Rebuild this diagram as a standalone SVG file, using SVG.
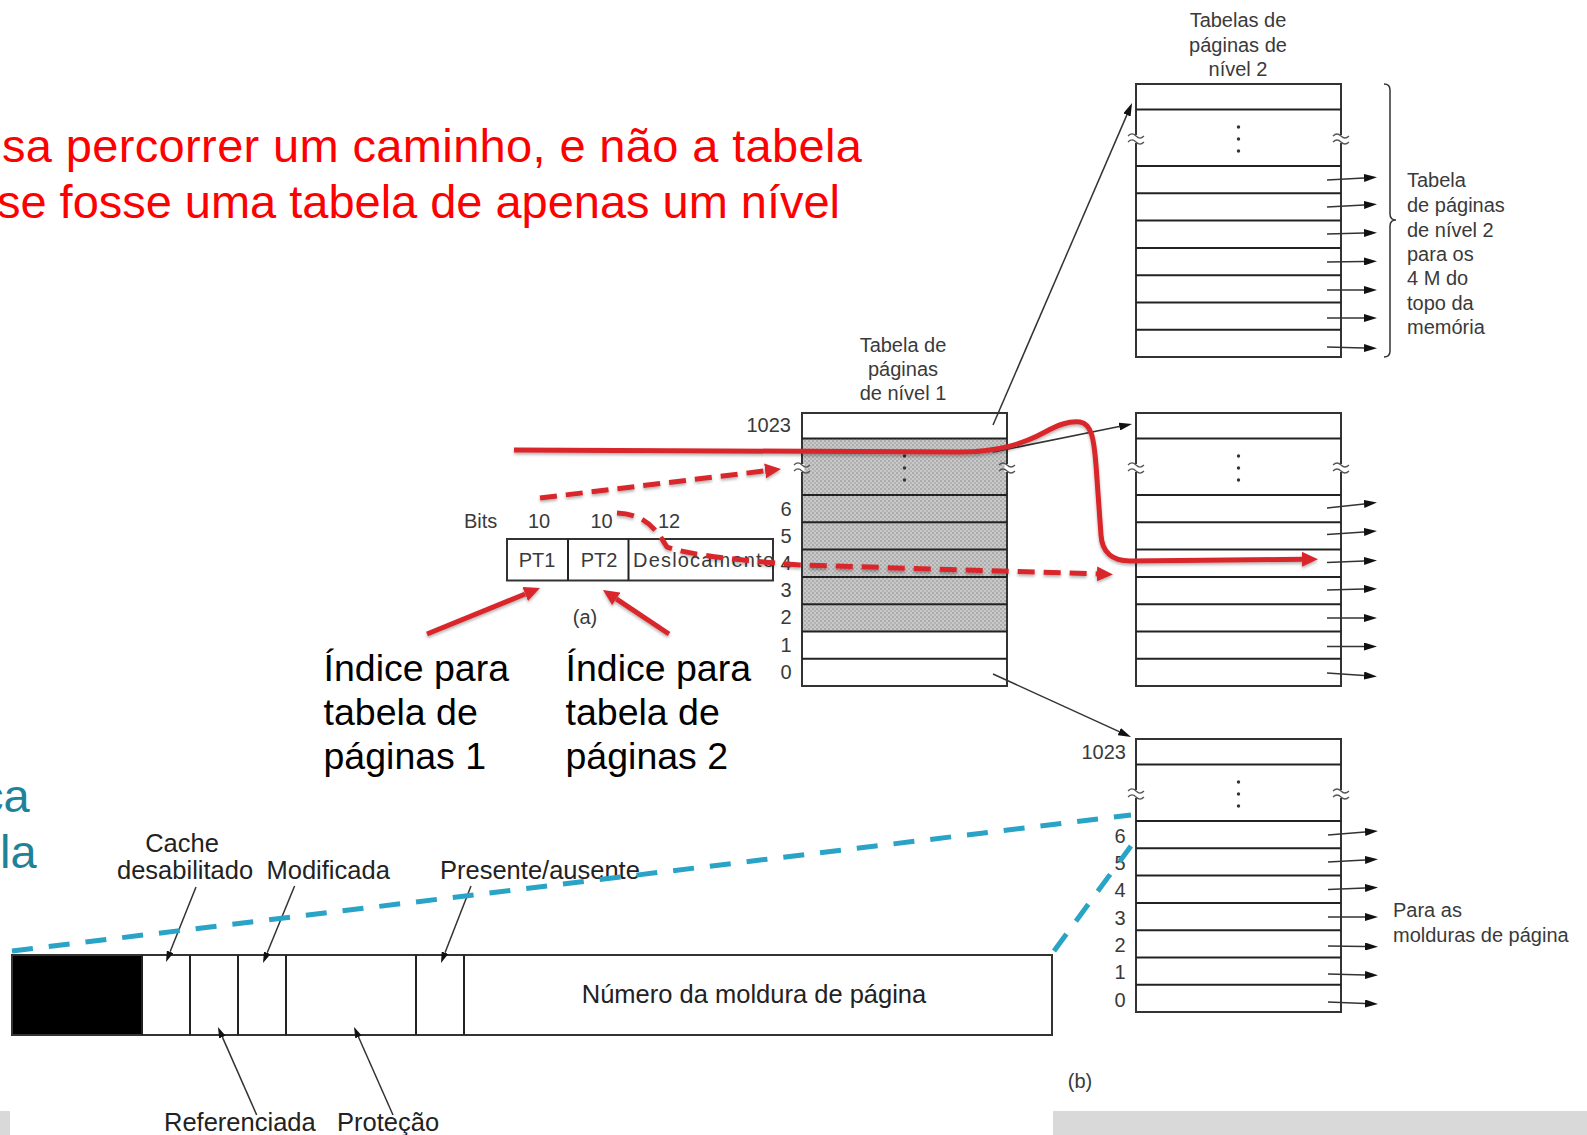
<svg xmlns="http://www.w3.org/2000/svg" xmlns:xlink="http://www.w3.org/1999/xlink" width="1587" height="1135" viewBox="0 0 1587 1135">
<style>
.fig{font-family:"Liberation Sans",Arial,sans-serif;font-size:20px;fill:#3a3a3a}
.lbl{font-family:"Liberation Sans",Arial,sans-serif;font-size:25.5px;fill:#222}
.big{font-family:"Liberation Sans",Arial,sans-serif;font-size:37.5px;fill:#000}
.head{font-family:"Liberation Sans",Arial,sans-serif;font-size:47px}
.border{fill:none;stroke:#333;stroke-width:2}
.sep{stroke:#222;stroke-width:2}
.brk{fill:none;stroke:#555;stroke-width:1.2}
.thin{fill:none;stroke:#333;stroke-width:1.5}
.red{fill:none;stroke:#d9262c;stroke-width:5}
.dash{stroke-dasharray:17 9}
.teal{fill:none;stroke:#29a3c6;stroke-width:5;stroke-dasharray:21 16}
</style>
<defs>
<pattern id="shade" width="4" height="4" patternUnits="userSpaceOnUse">
<rect width="4" height="4" fill="#c9c9c9"/>
<rect width="2" height="2" fill="#ababab"/>
<rect x="2" y="2" width="2" height="2" fill="#b3b3b3"/>
</pattern>
<marker id="ah" markerUnits="userSpaceOnUse" markerWidth="16" markerHeight="15" refX="0" refY="7.5" orient="auto">
<path d="M0,0 L16,7.5 L0,15 z" fill="#d9262c"/>
</marker>
<marker id="bh" markerUnits="userSpaceOnUse" markerWidth="13" markerHeight="8" refX="0" refY="4" orient="auto">
<path d="M0,0 L13,4 L0,8 z" fill="#111"/>
</marker>
<marker id="sh" markerUnits="userSpaceOnUse" markerWidth="11" markerHeight="7" refX="0" refY="3.5" orient="auto">
<path d="M0,0 L11,3.5 L0,7 z" fill="#111"/>
</marker>
<filter id="shadow" x="-5%" y="-20%" width="110%" height="140%">
<feDropShadow dx="0" dy="2" stdDeviation="1.5" flood-color="#000" flood-opacity="0.3"/>
</filter>
<g id="frame">
<rect x="0" y="0" width="205" height="273" class="border"/>
<line x1="0" y1="25.5" x2="205" y2="25.5" class="sep"/>
<line x1="0" y1="82" x2="205" y2="82" class="sep"/>
<line x1="0" y1="109.3" x2="205" y2="109.3" class="sep"/>
<line x1="0" y1="136.6" x2="205" y2="136.6" class="sep"/>
<line x1="0" y1="163.9" x2="205" y2="163.9" class="sep"/>
<line x1="0" y1="191.2" x2="205" y2="191.2" class="sep"/>
<line x1="0" y1="218.5" x2="205" y2="218.5" class="sep"/>
<line x1="0" y1="245.8" x2="205" y2="245.8" class="sep"/>
<rect x="-2.5" y="51" width="5" height="8" fill="#fff"/>
<rect x="202.5" y="51" width="5" height="8" fill="#fff"/>
<path class="brk" d="M-8,52 q4,-4 8,0 t8,0 M-8,58 q4,-4 8,0 t8,0 M197,52 q4,-4 8,0 t8,0 M197,58 q4,-4 8,0 t8,0"/>
<circle cx="102.5" cy="43" r="1.7" fill="#333"/>
<circle cx="102.5" cy="55" r="1.7" fill="#333"/>
<circle cx="102.5" cy="67" r="1.7" fill="#333"/>
</g>
</defs>

<rect width="1587" height="1135" fill="#fff"/>

<g id="header-text">
<text class="head" x="2" y="162" fill="#ff0000" textLength="860">sa percorrer um caminho, e não a tabela</text>
<text class="head" x="-3" y="218" fill="#ff0000" textLength="843">se fosse uma tabela de apenas um nível</text>
<text class="head" x="-20" y="812" fill="#1e8299">ca</text>
<text class="head" x="0" y="868" fill="#1e8299">la</text>
</g>

<g id="footer-bars">
<rect x="0" y="1111" width="10" height="24" fill="#d9d9d9"/>
<rect x="1053" y="1111" width="534" height="24" fill="#d9d9d9"/>
</g>

<g id="level1-table">
<rect x="802" y="413" width="205" height="273" fill="#fff"/>
<rect x="802" y="438.5" width="205" height="193" fill="url(#shade)"/>
<use xlink:href="#frame" href="#frame" transform="translate(802,413)"/>
<text class="fig" x="903" y="351.5" text-anchor="middle">Tabela de</text>
<text class="fig" x="903" y="375.5" text-anchor="middle">páginas</text>
<text class="fig" x="903" y="400" text-anchor="middle">de nível 1</text>
<text class="fig" x="791" y="432" text-anchor="end">1023</text>
<text class="fig" x="786" y="515.7" text-anchor="middle">6</text>
<text class="fig" x="786" y="543" text-anchor="middle">5</text>
<text class="fig" x="786" y="570" text-anchor="middle">4</text>
<text class="fig" x="786" y="597" text-anchor="middle">3</text>
<text class="fig" x="786" y="624" text-anchor="middle">2</text>
<text class="fig" x="786" y="651.5" text-anchor="middle">1</text>
<text class="fig" x="786" y="679" text-anchor="middle">0</text>
</g>

<g id="level2-top">
<rect x="1136" y="84" width="205" height="273" fill="#fff"/>
<use xlink:href="#frame" href="#frame" transform="translate(1136,84)"/>
<text class="fig" x="1238" y="27" text-anchor="middle">Tabelas de</text>
<text class="fig" x="1238" y="51.5" text-anchor="middle">páginas de</text>
<text class="fig" x="1238" y="76" text-anchor="middle">nível 2</text>
<path class="thin" d="M1384,84 q6,0 6,6 L1390,214 q0,6 6,6 q-6,0 -6,6 L1390,351 q0,6 -6,6"/>
<text class="fig" x="1407" y="187">Tabela</text>
<text class="fig" x="1407" y="212">de páginas</text>
<text class="fig" x="1407" y="236.5">de nível 2</text>
<text class="fig" x="1407" y="261">para os</text>
<text class="fig" x="1407" y="285">4 M do</text>
<text class="fig" x="1407" y="309.5">topo da</text>
<text class="fig" x="1407" y="334">memória</text>
</g>

<g id="level2-middle">
<rect x="1136" y="413" width="205" height="273" fill="#fff"/>
<use xlink:href="#frame" href="#frame" transform="translate(1136,413)"/>
</g>

<g id="level2-bottom">
<rect x="1136" y="739" width="205" height="273" fill="#fff"/>
<use xlink:href="#frame" href="#frame" transform="translate(1136,739)"/>
<text class="fig" x="1126" y="759" text-anchor="end">1023</text>
<text class="fig" x="1120" y="842.5" text-anchor="middle">6</text>
<text class="fig" x="1120" y="870" text-anchor="middle">5</text>
<text class="fig" x="1120" y="897" text-anchor="middle">4</text>
<text class="fig" x="1120" y="924.5" text-anchor="middle">3</text>
<text class="fig" x="1120" y="952" text-anchor="middle">2</text>
<text class="fig" x="1120" y="979" text-anchor="middle">1</text>
<text class="fig" x="1120" y="1006.5" text-anchor="middle">0</text>
<text class="fig" x="1393" y="917">Para as</text>
<text class="fig" x="1393" y="942">molduras de página</text>
<text class="fig" x="1080" y="1088" text-anchor="middle">(b)</text>
</g>

<g id="address-bits">
<text class="fig" x="464" y="528">Bits</text>
<text class="fig" x="539" y="528" text-anchor="middle">10</text>
<text class="fig" x="601.5" y="528" text-anchor="middle">10</text>
<text class="fig" x="669" y="528" text-anchor="middle">12</text>
<rect x="507" y="539" width="266" height="41.5" class="border"/>
<line x1="568" y1="539" x2="568" y2="580.5" class="sep"/>
<line x1="628.5" y1="539" x2="628.5" y2="580.5" class="sep"/>
<text class="fig" x="537" y="567" text-anchor="middle">PT1</text>
<text class="fig" x="599" y="567" text-anchor="middle">PT2</text>
<text class="fig" x="633" y="567" textLength="141">Deslocamento</text>
<text class="fig" x="585" y="624" text-anchor="middle">(a)</text>
</g>

<g id="index-labels">
<text class="big" x="323.5" y="681">Índice para</text>
<text class="big" x="323.5" y="724.5">tabela de</text>
<text class="big" x="323.5" y="768.5">páginas 1</text>
<text class="big" x="565.5" y="681">Índice para</text>
<text class="big" x="565.5" y="724.5">tabela de</text>
<text class="big" x="565.5" y="768.5">páginas 2</text>
</g>

<g id="page-entry">
<rect x="12" y="955" width="130" height="80" fill="#000"/>
<rect x="12" y="955" width="1040" height="80" class="border"/>
<line x1="142" y1="955" x2="142" y2="1035" class="sep"/>
<line x1="190" y1="955" x2="190" y2="1035" class="sep"/>
<line x1="238" y1="955" x2="238" y2="1035" class="sep"/>
<line x1="286" y1="955" x2="286" y2="1035" class="sep"/>
<line x1="416" y1="955" x2="416" y2="1035" class="sep"/>
<line x1="464" y1="955" x2="464" y2="1035" class="sep"/>
<text class="lbl" x="754" y="1002.5" text-anchor="middle">Número da moldura de página</text>
<text class="lbl" x="182" y="851.5" text-anchor="middle">Cache</text>
<text class="lbl" x="117" y="879">desabilitado</text>
<text class="lbl" x="266.5" y="879">Modificada</text>
<text class="lbl" x="440" y="879">Presente/ausente</text>
<text class="lbl" x="164" y="1131">Referenciada</text>
<text class="lbl" x="337" y="1131">Proteção</text>
</g>

<g id="connectors">
<line x1="993" y1="425" x2="1126.9" y2="114.9" class="thin" marker-end="url(#bh)"/>
<line x1="993" y1="452" x2="1119.3" y2="426.6" class="thin" marker-end="url(#bh)"/>
<line x1="993" y1="674" x2="1119.2" y2="731.6" class="thin" marker-end="url(#bh)"/>
<g class="thin">
<line x1="1327" y1="180" x2="1364" y2="178" marker-end="url(#bh)"/>
<line x1="1327" y1="207" x2="1364" y2="205" marker-end="url(#bh)"/>
<line x1="1327" y1="234" x2="1364" y2="233" marker-end="url(#bh)"/>
<line x1="1327" y1="262" x2="1364" y2="261.5" marker-end="url(#bh)"/>
<line x1="1327" y1="290" x2="1364" y2="290" marker-end="url(#bh)"/>
<line x1="1327" y1="318" x2="1364" y2="318" marker-end="url(#bh)"/>
<line x1="1327" y1="347" x2="1364" y2="348" marker-end="url(#bh)"/>
<line x1="1327" y1="508" x2="1364" y2="504" marker-end="url(#bh)"/>
<line x1="1327" y1="534.5" x2="1364" y2="532" marker-end="url(#bh)"/>
<line x1="1327" y1="562.5" x2="1364" y2="561" marker-end="url(#bh)"/>
<line x1="1327" y1="590" x2="1364" y2="589" marker-end="url(#bh)"/>
<line x1="1327" y1="618" x2="1364" y2="618" marker-end="url(#bh)"/>
<line x1="1327" y1="646.5" x2="1364" y2="646.5" marker-end="url(#bh)"/>
<line x1="1327" y1="673" x2="1364" y2="675.5" marker-end="url(#bh)"/>
<line x1="1328" y1="835" x2="1365" y2="832" marker-end="url(#bh)"/>
<line x1="1328" y1="862" x2="1365" y2="860" marker-end="url(#bh)"/>
<line x1="1328" y1="889.5" x2="1365" y2="888" marker-end="url(#bh)"/>
<line x1="1328" y1="917" x2="1365" y2="917" marker-end="url(#bh)"/>
<line x1="1328" y1="946" x2="1365" y2="946.5" marker-end="url(#bh)"/>
<line x1="1328" y1="974" x2="1365" y2="975" marker-end="url(#bh)"/>
<line x1="1328" y1="1002" x2="1365" y2="1003.5" marker-end="url(#bh)"/>
<line x1="196" y1="887" x2="170.1" y2="951.8" marker-end="url(#sh)"/>
<line x1="294.6" y1="886" x2="267.2" y2="952.8" marker-end="url(#sh)"/>
<line x1="471" y1="886" x2="445" y2="952.7" marker-end="url(#sh)"/>
<line x1="256.7" y1="1115" x2="222.4" y2="1037.1" marker-end="url(#sh)"/>
<line x1="393" y1="1115" x2="358.5" y2="1037" marker-end="url(#sh)"/>
</g>
<line x1="12" y1="951" x2="1131" y2="815" class="teal"/>
<line x1="1054" y1="951" x2="1131" y2="846" class="teal"/>
<g filter="url(#shadow)">
<path class="red" d="M514,450 L960,452 C1000,452 1025,443 1045,432 C1058,425 1068,421 1080,422 C1092,424 1094,440 1096,465 L1101,535 C1102,552 1112,561 1130,561 L1302,559.3" marker-end="url(#ah)"/>
<line class="red dash" x1="540" y1="498" x2="765.1" y2="470.9" marker-end="url(#ah)"/>
<path class="red dash" d="M617,513 C648,514 658,533 667,547 C690,556 760,562 800,565 L1097,573.9" marker-end="url(#ah)"/>
<line class="red" x1="427" y1="634" x2="525.2" y2="594" marker-end="url(#ah)"/>
<line class="red" x1="669" y1="634" x2="616.3" y2="598.9" marker-end="url(#ah)"/>
</g>
</g>
</svg>
